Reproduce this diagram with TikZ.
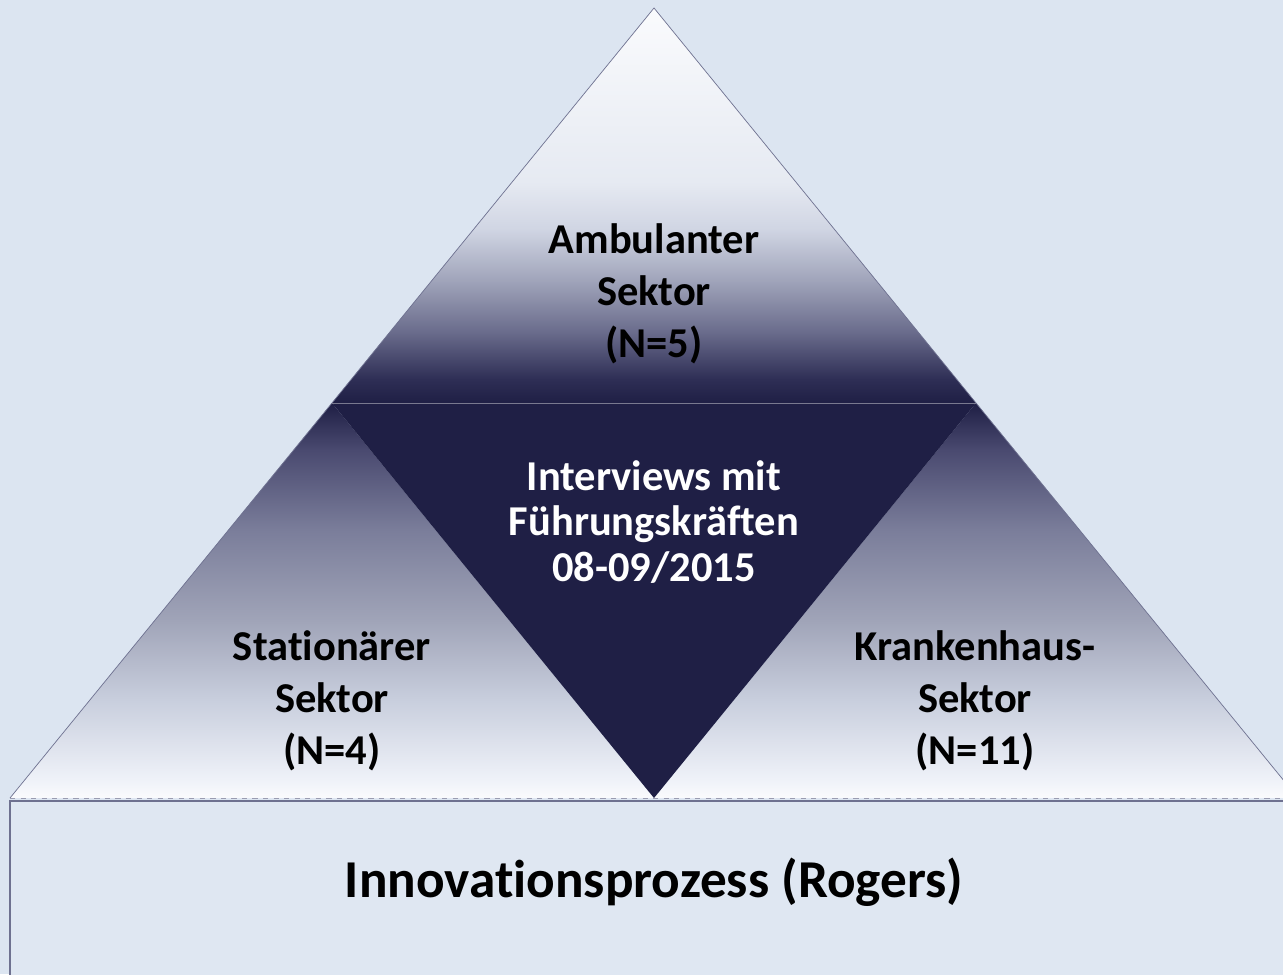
\documentclass[tikz,border=0pt]{standalone}
\usepackage{fontspec}
\setmainfont{Carlito}[Ligatures=NoCommon]
\definecolor{bgblue}{HTML}{DCE5F1}
\definecolor{boxfill}{HTML}{DFE7F2}
\definecolor{navy}{HTML}{1F1F45}
\definecolor{edge}{HTML}{6E7190}
\definecolor{topwhite}{HTML}{FAFBFD}
\definecolor{fadeA}{HTML}{2E2E55}
\definecolor{fadeB}{HTML}{6A6C8C}
\definecolor{fadeC}{HTML}{A0A4BA}
\definecolor{fadeD}{HTML}{D0D5E3}
\definecolor{fadeE}{HTML}{E6EAF2}
\definecolor{fadeF}{HTML}{4A4A70}
\definecolor{fadeG}{HTML}{7A7D9A}
\definecolor{fadeH}{HTML}{A0A4B8}
\definecolor{fadeI}{HTML}{C8CEDD}
\definecolor{fadeJ}{HTML}{EEF1F8}
\pgfdeclareverticalshading{topfade}{100bp}{color(0bp)=(navy); color(25bp)=(navy);
  color(28bp)=(fadeA); color(34bp)=(fadeB); color(40.5bp)=(fadeC); color(47bp)=(fadeD);
  color(53bp)=(fadeE); color(75bp)=(topwhite); color(100bp)=(topwhite)}
\pgfdeclareverticalshading{sidefade}{100bp}{color(0bp)=(topwhite); color(25bp)=(topwhite);
  color(27.5bp)=(fadeJ); color(37.5bp)=(fadeI); color(47.5bp)=(fadeH); color(59bp)=(fadeG);
  color(69bp)=(fadeF); color(75bp)=(navy); color(100bp)=(navy)}
\tikzset{
  lbl/.style={align=center, font=\bfseries\fontsize{24.2}{29.5}\selectfont, text=black},
  inner/.style={align=center, font=\bfseries\fontsize{24.2}{26}\selectfont, text=white}
}
\begin{document}
\begin{tikzpicture}[x=0.02cm, y=-0.02cm]
    \useasboundingbox (0,0) rectangle (1283,974);
    \fill [bgblue](0,0) rectangle (1283,974);
    \clip (0,0) rectangle (1283,974);
    % corners of the pyramid
    \coordinate (top) at (654,8);
    \coordinate (bl) at (10,798);
    \coordinate (br) at (1298,798);
    \coordinate (ml) at (332,403);
    \coordinate (mr) at (976,403);
    \coordinate (mb) at (654,798);
    % four triangles
    \shade [shading=topfade] (top) -- (ml) -- (mr) -- cycle;
    \shade [shading=sidefade] (ml) -- (bl) -- (mb) -- cycle;
    \shade [shading=sidefade] (mr) -- (mb) -- (br) -- cycle;
    \fill [navy](ml) -- (mr) -- (mb) -- cycle;
    \draw [white!40!navy, very thin](ml) -- (mr);
    \draw [edge, thin](bl) -- (top) -- (br);
    \draw [edge!70, thin, dashed](bl) -- (br);
    % base
    \draw [edge, line width=1.2pt, fill=boxfill](10,801) rectangle (1300,990);
    % texts
    \node [lbl] (amb) at (654,294) {Ambulanter\\Sektor\\(N=5)};
    \node [lbl] (stat) at (332,701) {Stationärer\\Sektor\\(N=4)};
    \node [lbl] (kh) at (975,701) {Krankenhaus-\\Sektor\\(N=11)};
    \node [inner] (int) at (654,522) {Interviews mit\\Führungskräften\\08-09/2015};
    \node [font=\bfseries\fontsize{30.3}{36}\selectfont] (inno) at (654,882) {Innovationsprozess (Rogers)};
\end{tikzpicture}
\end{document}
